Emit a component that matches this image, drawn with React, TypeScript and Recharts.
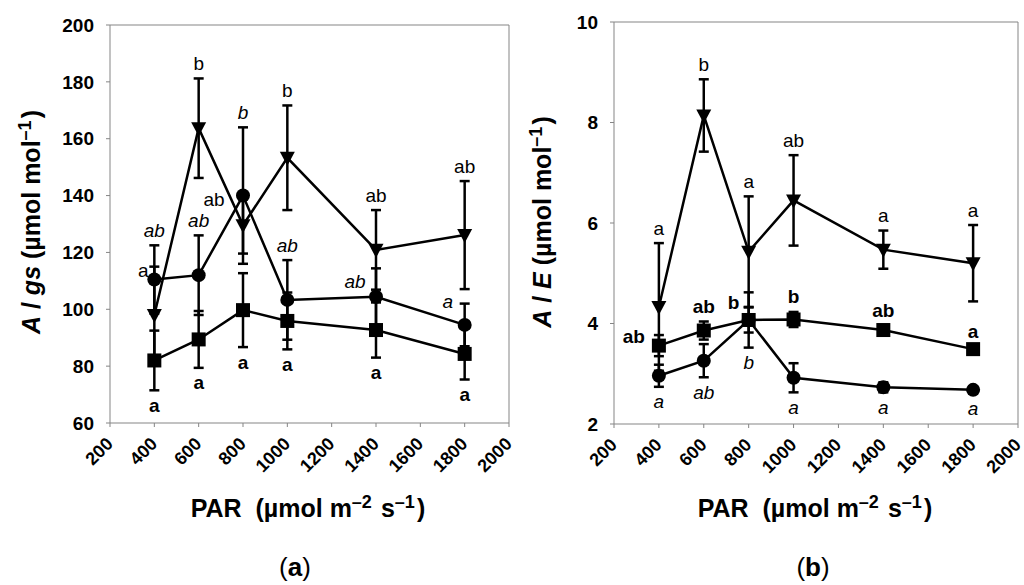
import React from 'react'
import { LineChart, Line, XAxis, YAxis, ErrorBar, ReferenceLine } from 'recharts'

const FONT = '"Liberation Sans", Arial, sans-serif'
const GREY = '#858585'

const par = [400, 600, 800, 1000, 1400, 1800]
const xTicks = [200, 400, 600, 800, 1000, 1200, 1400, 1600, 1800, 2000]

// (a) A / gs
const gsTicks = [60, 80, 100, 120, 140, 160, 180, 200]
const gsCircle = [110.5, 112, 140, 103.3, 104.4, 94.5]
const gsCircleErr = [12, 14, 24, 14, 10, 7.5]
const gsCircleLetters = ['ab', 'ab', 'b', 'ab', 'ab', 'a']
const gsSquare = [82, 89.4, 99.7, 95.9, 92.7, 84.3]
const gsSquareErr = [10.5, 10, 13, 10, 9.7, 9]
const gsSquareLetters = ['a', 'a', 'a', 'a', 'a', 'a']
const gsTriangle = [98, 163.7, 129.6, 153.3, 120.9, 126.1]
const gsTriangleErr = [17, 17.5, 10, 18.4, 14, 19]
const gsTriangleLetters = ['a', 'b', 'ab', 'b', 'ab', 'ab']

// (b) A / E
const eTicks = [2, 4, 6, 8, 10]
const eCircle = [2.96, 3.26, 4.07, 2.92, 2.73, 2.68]
const eCircleErr = [0.22, 0.33, 0.55, 0.29, 0.1, 0.07]
const eCircleLetters = ['a', 'ab', 'b', 'a', 'a', 'a']
const eSquare = [3.56, 3.86, 4.07, 4.08, 3.87, 3.49]
const eSquareErr = [0.21, 0.18, 0.25, 0.15, 0.1, 0.05]
const eSquareLetters = ['ab', 'ab', 'b', 'b', 'ab', 'a']
const eTriangle = [4.33, 8.14, 5.43, 6.45, 5.47, 5.2]
const eTriangleErr = [1.27, 0.72, 1.1, 0.9, 0.38, 0.76]
const eTriangleLetters = ['a', 'b', 'a', 'ab', 'a', 'a']

// where each letter sits: above the error bar, below it, or a px nudge from the point
type Place = 'up' | 'down' | [number, number]
const allUp: Place[] = ['up', 'up', 'up', 'up', 'up', 'up']
const allDown: Place[] = ['down', 'down', 'down', 'down', 'down', 'down']
const gsCirclePlace: Place[] = ['up', 'up', 'up', 'up', [-21, -15], [-17, -23]]
const gsTrianglePlace: Place[] = [[-11, -44], 'up', [-29, -26], 'up', 'up', 'up']
const eSquarePlace: Place[] = [[-25, -9], 'up', [-15, -17], 'up', 'up', 'up']

type Shape = 'circle' | 'square' | 'triangle'
type Series = {
  key: string
  values: number[]
  errs: number[]
  letters: string[]
  place: Place[]
  shape: Shape
  style: 'italic' | 'bold' | 'normal'
}

const gsSeries: Series[] = [
  { key: 't', values: gsTriangle, errs: gsTriangleErr, letters: gsTriangleLetters, place: gsTrianglePlace, shape: 'triangle', style: 'normal' },
  { key: 'c', values: gsCircle, errs: gsCircleErr, letters: gsCircleLetters, place: gsCirclePlace, shape: 'circle', style: 'italic' },
  { key: 's', values: gsSquare, errs: gsSquareErr, letters: gsSquareLetters, place: allDown, shape: 'square', style: 'bold' },
]

const eSeries: Series[] = [
  { key: 't', values: eTriangle, errs: eTriangleErr, letters: eTriangleLetters, place: allUp, shape: 'triangle', style: 'normal' },
  { key: 'c', values: eCircle, errs: eCircleErr, letters: eCircleLetters, place: allDown, shape: 'circle', style: 'italic' },
  { key: 's', values: eSquare, errs: eSquareErr, letters: eSquareLetters, place: eSquarePlace, shape: 'square', style: 'bold' },
]

const marker = (shape: Shape, k: string) => (p: any) => {
  const { cx, cy, index } = p
  const key = `${k}-${index}`
  if (cx == null || cy == null) return <g key={key} />
  if (shape === 'circle') return <circle key={key} cx={cx} cy={cy} r={7} fill="#000" />
  if (shape === 'square') return <rect key={key} x={cx - 7} y={cy - 7} width={14} height={14} fill="#000" />
  return <path key={key} d={`M${cx - 7.5},${cy - 6}L${cx + 7.5},${cy - 6}L${cx},${cy + 8}Z`} fill="#000" />
}

const letterDot = (s: Series) => (p: any) => {
  const { cx, cy, index } = p
  const pl = s.place[index]
  const dx = Array.isArray(pl) ? pl[0] : 0
  const dy = Array.isArray(pl) ? pl[1] : pl === 'up' ? -15 : 15
  return (
    <text
      key={`lab-${s.key}-${index}`}
      x={cx + dx}
      y={cy + dy}
      textAnchor="middle"
      dominantBaseline="central"
      fontFamily={FONT}
      fontSize={19}
      fontStyle={s.style === 'italic' ? 'italic' : 'normal'}
      fontWeight={s.style === 'bold' ? 'bold' : 'normal'}
      fill="#000"
    >
      {s.letters[index]}
    </text>
  )
}

const XTick = (props: any) => {
  const { x, y, payload } = props
  return (
    <text
      transform={`translate(${x + 4},${y + 16}) rotate(-45)`}
      textAnchor="end"
      fontFamily={FONT}
      fontSize={18}
      fontWeight="bold"
      fill="#000"
    >
      {payload.value}
    </text>
  )
}

function Panel({ left, width, margin, yWidth, domain, yTicks, series }: any) {
  const rows = par.map((x, i) => {
    const r: any = { x }
    series.forEach((s: Series) => {
      const p = s.place[i]
      r[s.key] = s.values[i]
      r[s.key + 'Err'] = s.errs[i]
      r[s.key + 'Anc'] = p === 'up' ? s.values[i] + s.errs[i] : p === 'down' ? s.values[i] - s.errs[i] : s.values[i]
    })
    return r
  })

  return (
    <div style={{ position: 'absolute', left, top: 0 }}>
      <LineChart width={width} height={585} data={rows} margin={margin}>
        <XAxis
          dataKey="x"
          type="number"
          domain={[200, 2000]}
          ticks={xTicks}
          height={60}
          stroke={GREY}
          tickSize={4}
          tickMargin={2}
          tick={<XTick />}
          interval={0}
        />
        <YAxis
          type="number"
          domain={domain}
          ticks={yTicks}
          width={yWidth}
          stroke={GREY}
          tickSize={4}
          tickMargin={12}
          interval={0}
          tick={{ fill: '#000', fontSize: 19, fontWeight: 'bold', fontFamily: FONT }}
        />
        <ReferenceLine y={domain[1]} stroke={GREY} strokeWidth={1} />
        <ReferenceLine x={2000} stroke={GREY} strokeWidth={1} />
        {series.map((s: Series) => (
          <Line
            key={s.key}
            dataKey={s.key}
            stroke="#000"
            strokeWidth={2.5}
            dot={marker(s.shape, s.key)}
            activeDot={false}
            isAnimationActive={false}
          >
            <ErrorBar dataKey={s.key + 'Err'} direction="y" width={5} stroke="#000" strokeWidth={2.5} isAnimationActive={false} />
          </Line>
        ))}
        {series.map((s: Series) => (
          <Line
            key={s.key + 'Anc'}
            dataKey={s.key + 'Anc'}
            stroke="none"
            dot={letterDot(s)}
            activeDot={false}
            isAnimationActive={false}
          />
        ))}
      </LineChart>
    </div>
  )
}

const sup = (t: string) => (
  <>
    <tspan dy={-9} fontSize={18}>{t}</tspan>
    <tspan dy={9}>{'\u200a'}</tspan>
  </>
)

const parTitle = (
  <>
    {'PAR\u00a0 (µmol m'}
    {sup('–2')}
    {' s'}
    {sup('–1')}
    {')'}
  </>
)

export default function App() {
  return (
    <div style={{ position: 'absolute', left: 0, top: 0, width: 1024, height: 585, background: '#fff' }}>
      <Panel
        left={0}
        width={520}
        margin={{ top: 25, right: 11, left: 0, bottom: 102 }}
        yWidth={110}
        domain={[60, 200]}
        yTicks={gsTicks}
        series={gsSeries}
      />
      <Panel
        left={510}
        width={514}
        margin={{ top: 22, right: 6, left: 0, bottom: 101 }}
        yWidth={104}
        domain={[2, 10]}
        yTicks={eTicks}
        series={eSeries}
      />
      <svg width={1024} height={585} style={{ position: 'absolute', left: 0, top: 0, pointerEvents: 'none' }}>
        <g fontFamily={FONT} fontWeight="bold" fontSize={25} fill="#000">
          <text transform="translate(40,222) rotate(-90)" textAnchor="middle">
            <tspan fontStyle="italic">A</tspan>
            {' / '}
            <tspan fontStyle="italic">gs</tspan>
            {' (µmol mol'}
            {sup('–1')}
            {')'}
          </text>
          <text transform="translate(551,222) rotate(-90)" textAnchor="middle">
            <tspan fontStyle="italic">A</tspan>
            {' / '}
            <tspan fontStyle="italic">E</tspan>
            {' (µmol mol'}
            {sup('–1')}
            {')'}
          </text>
          <text x={308} y={517} textAnchor="middle">
            {parTitle}
          </text>
          <text x={815} y={517} textAnchor="middle">
            {parTitle}
          </text>
        </g>
        <g fontFamily={FONT} fontSize={26} fill="#000">
          <text x={295} y={576} textAnchor="middle">
            (<tspan fontWeight="bold">a</tspan>)
          </text>
          <text x={813} y={576} textAnchor="middle">
            (<tspan fontWeight="bold">b</tspan>)
          </text>
        </g>
      </svg>
    </div>
  )
}
